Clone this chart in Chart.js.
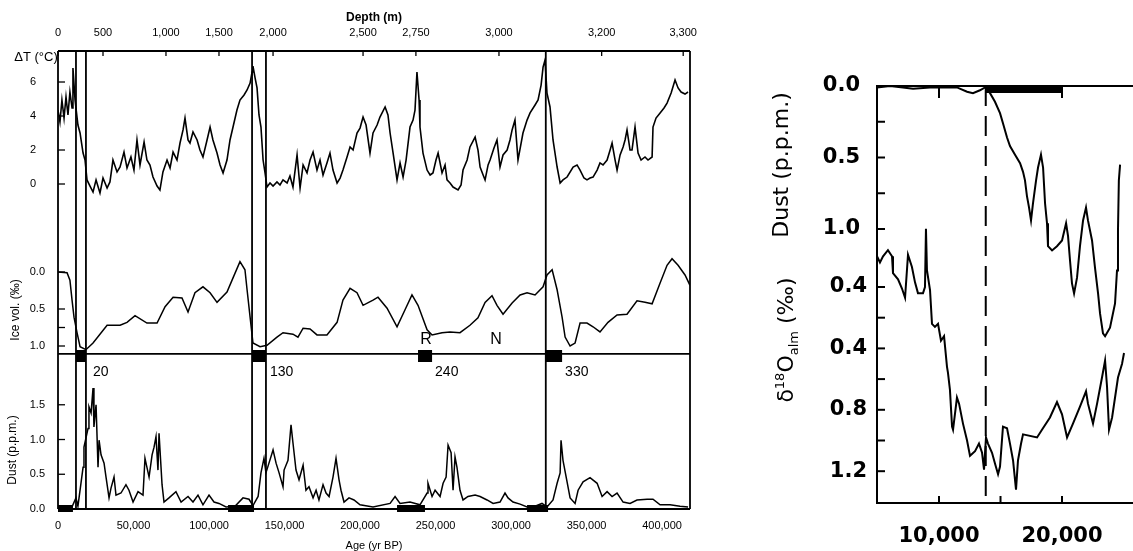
<!DOCTYPE html>
<html>
<head>
<meta charset="utf-8">
<script src="https://cdn.jsdelivr.net/npm/chart.js@4.4.1/dist/chart.umd.min.js"></script>
<style>
  html, body { margin: 0; padding: 0; background: #fff; }
  body { width: 1133px; height: 551px; position: relative; overflow: hidden; }
  canvas { position: absolute; }
</style>
</head>
<body>
<canvas id="cTemp" width="720" height="235" style="left:0;top:0"></canvas>
<canvas id="cIce" width="720" height="118" style="left:0;top:235px"></canvas>
<canvas id="cDust" width="720" height="198" style="left:0;top:353px"></canvas>
<canvas id="cRecent" width="393" height="551" style="left:740px;top:0"></canvas>
<script>
// ---- long record (left figure), ages in years BP ----
const AGE_MAX = 418500;

const depthTickLabels = ['0', '500', '1,000', '1,500', '2,000', '2,500', '2,750', '3,000', '3,200', '3,300'];
const depthTickAges = [0, 29800, 71500, 106600, 142400, 202000, 237000, 292000, 360000, 414000];

const ageTicks = [0, 50000, 100000, 150000, 200000, 250000, 300000, 350000, 400000];
const ageTickLabels = ['0', '50,000', '100,000', '150,000', '200,000', '250,000', '300,000', '350,000', '400,000'];

const boundaryAges = [11900, 18500, 128500, 137700, 323000];
const terminationBars = [[11900, 18500], [128500, 137700], [238400, 247700], [323000, 333800]];
const interglacialBars = [[0, 9900], [112600, 129800], [224500, 243000], [310600, 324500]];
const terminationLabels = ['20', '130', '240', '330'];
const terminationLabelAges = [23200, 140400, 249700, 335800];
const markerLabels = ['R', 'N'];
const markerAges = [243700, 290000];

const tempTicks = [0, 2, 4, 6];
const iceTicks = [0, 0.5, 0.75, 1.0];
const iceTickLabels = ['0.0', '0.5', '', '1.0'];
const dustTicks = [0, 0.5, 1.0, 1.5];

const tempAge = [0, 1300, 2600, 4000, 5300, 6600, 7900, 9300, 9900, 11300, 13200, 14600, 16600, 17900, 19200,
  21200, 23200, 25200, 27800, 29800, 32500, 34400, 36400, 39100, 41100, 43700, 45700, 48300, 50300, 52300,
  54300, 57000, 58900, 60900, 62900, 65600, 67500, 69500, 72200, 74200, 76200, 78800, 80800, 82800, 84100,
  86100, 87400, 89400, 92100, 94000, 96000, 98700, 100700, 102600, 105300, 107300, 109300, 111900, 113900,
  115900, 118500, 120500, 123200, 125200, 127200, 128500, 129100, 130500, 131800, 133100, 134400, 135800,
  137100, 138400, 140400, 142400, 145000, 147000, 149000, 151700, 153600, 155600, 158300, 160300, 162300,
  164900, 166900, 168900, 171500, 173500, 175500, 178100, 180100, 182100, 184800, 186800, 188700, 191400,
  193400, 195400, 198000, 200000, 202000, 204000, 206600, 208600, 211300, 213200, 216600, 218500, 219900,
  221900, 224500, 226500, 228500, 230500, 233100, 235100, 236400, 237700, 239100, 239700, 241700, 244400,
  246400, 248300, 250300, 251700, 254300, 256300, 257600, 259600, 261600, 264900, 266900, 268200, 270900,
  272800, 276200, 278100, 279500, 281500, 282800, 284800, 286100, 288700, 290700, 292700, 294700, 297400,
  299300, 300700, 302600, 304600, 307900, 310600, 312600, 315900, 317900, 319900, 321200, 322500, 323800,
  325800, 327800, 330500, 332500, 334400, 337100, 341100, 343700, 345700, 348300, 350300, 352300, 354300,
  357000, 358900, 360900, 363600, 365600, 366900, 368900, 370200, 372200, 374200, 375500, 376800, 378800,
  380100, 382100, 384100, 386100, 388700, 390700, 393400, 394000, 396000, 398700, 401300, 403300, 406000,
  408600, 410600, 412600, 415200, 417200];
const tempVal = [4.35, 3.65, 4.94, 3.88, 5.12, 4.06, 5.41, 4.47, 6.82, 4.94, 3.47, 3.0, 1.82, 1.41, 0.24,
  -0.12, -0.47, 0.24, -0.53, 0.35, -0.24, 0.12, 1.41, 0.71, 1.0, 1.88, 0.94, 1.59, 0.82, 2.59,
  1.12, 2.47, 1.41, 1.12, 0.41, -0.12, -0.35, 0.71, 1.41, 0.94, 1.88, 1.41, 2.41, 3.18, 3.88,
  2.59, 2.41, 3.06, 2.59, 2.0, 1.59, 2.59, 3.35, 2.59, 1.82, 1.12, 0.65, 1.41, 2.59,
  3.35, 4.35, 4.94, 5.24, 5.53, 5.94, 6.59, 6.94, 6.24, 5.65, 4.06, 3.35, 1.41,
  0.65, -0.18, 0.06, -0.12, 0.12, -0.06, 0.24, 0.06, 0.47, -0.18, 1.71, -0.24, 1.12,
  0.65, 1.41, 1.88, 0.82, 1.41, 0.53, 1.24, 1.82, 0.82, 0.06, 0.35, 0.82, 1.59,
  2.18, 2.0, 3.0, 3.29, 3.94, 3.47, 1.82, 3.0, 3.47, 3.94, 4.53, 4.06, 3.0,
  1.82, 0.24, 1.24, 0.41, 1.41, 3.35, 3.76, 4.35, 6.59, 4.94, 3.35, 1.82, 0.82,
  0.53, 0.65, 1.41, 1.82, 0.65, 1.12, 0.24, 0.06, -0.18, -0.35, -0.06, 0.82, 1.41,
  2.18, 2.76, 2.0, 1.0, 0.53, 0.24, 1.12, 1.41, 2.12, 2.59, 1.0, 1.71, 2.0,
  2.59, 3.18, 3.76, 1.41, 3.0, 3.76, 4.18, 4.65, 4.94, 5.82, 6.88, 7.29, 5.35,
  4.53, 2.59, 1.0, 0.06, 0.24, 0.41, 1.0, 1.12, 0.82, 0.35, 0.24, 0.35, 0.41,
  0.82, 1.24, 1.12, 1.41, 2.0, 2.41, 1.41, 0.82, 1.71, 2.18, 2.59, 3.18, 2.0,
  2.0, 3.35, 1.82, 1.41, 1.59, 1.41, 1.59, 3.35, 3.88, 4.18, 4.47, 4.76, 5.35,
  6.12, 5.65, 5.41, 5.29, 5.41];

const iceAge = [0, 6000, 7900, 9300, 10600, 12600, 14600, 18500, 23200, 32500, 41100, 45700, 51000, 58900,
  65600, 70900, 76200, 82100, 86100, 90700, 96000, 100700, 105300, 111900, 115900, 120500, 123800, 125200,
  127200, 129100, 133800, 138400, 145000, 149000, 155600, 158900, 162300, 166900, 171500, 178100, 184800,
  188700, 193400, 198000, 202000, 208600, 211900, 217900, 224500, 229800, 234400, 238400, 244400, 247700,
  254300, 259600, 266200, 272800, 278100, 282800, 287400, 290700, 294700, 300700, 306000, 310600, 315900,
  321200, 323800, 327200, 330500, 333800, 335800, 339100, 342400, 345700, 350300, 354300, 358900, 364200,
  370200, 376800, 383400, 388700, 393400, 398700, 403300, 406600, 410600, 415200, 418500];
const iceVal = [0.0, 0.01, 0.11, 0.38, 0.61, 0.82, 1.01, 1.05, 0.96, 0.72, 0.72, 0.68, 0.59, 0.69,
  0.69, 0.47, 0.34, 0.35, 0.54, 0.28, 0.20, 0.28, 0.41, 0.27, 0.08, -0.14, -0.03, 0.24,
  0.61, 0.96, 1.01, 0.99, 0.88, 0.82, 0.84, 0.88, 0.76, 0.77, 0.85, 0.85, 0.68,
  0.38, 0.22, 0.28, 0.45, 0.38, 0.34, 0.49, 0.74, 0.51, 0.31, 0.45, 0.78, 0.85,
  0.82, 0.81, 0.82, 0.72, 0.62, 0.41, 0.32, 0.45, 0.57, 0.42, 0.31, 0.28, 0.31,
  0.20, 0.04, -0.03, 0.24, 0.61, 0.88, 1.0, 0.96, 0.69, 0.69, 0.74, 0.81, 0.68,
  0.58, 0.57, 0.39, 0.41, 0.43, 0.15, -0.09, -0.18, -0.09, 0.04, 0.18];

const dustAge = [0, 4600, 9300, 11900, 13200, 15200, 16600, 17200, 19900, 20500, 21900, 23200, 23800, 25200,
  26500, 27200, 28500, 30500, 31800, 33800, 35100, 37100, 38400, 41700, 45000, 47000, 49700, 53000, 56300,
  57600, 60300, 62300, 63600, 64900, 66200, 66900, 68900, 70200, 73500, 78100, 81500, 86100, 89400, 92700,
  96000, 100000, 103300, 106600, 111300, 117200, 122500, 126500, 129100, 132500, 134400, 136400, 137700,
  139700, 142400, 144400, 146400, 149000, 149700, 152300, 154300, 155600, 157600, 159600, 162300, 164200,
  166200, 168900, 170900, 172800, 175500, 177500, 179500, 182100, 184100, 186100, 187400, 189400, 192700,
  196000, 200000, 208600, 219900, 223200, 226500, 233100, 239700, 244400, 245000, 247700, 249700, 253000,
  255000, 257000, 258300, 260300, 261600, 262900, 264200, 266200, 268200, 271500, 276200, 279500, 284100,
  288100, 292700, 296000, 298000, 301300, 306000, 310600, 315900, 320500, 323800, 327800, 330500, 332500,
  333100, 334400, 337100, 339100, 342400, 344400, 347700, 352300, 357000, 360300, 363600, 366900, 370200,
  374200, 378800, 383400, 390100, 394000, 398700, 405300, 411900, 417200];
const dustVal = [0.02, 0.02, 0.03, 0.16, 0.04, 0.37, 0.6, 0.89, 1.16, 1.47, 1.38, 1.74, 1.18, 1.5,
  0.6, 0.99, 0.78, 0.66, 0.46, 0.16, 0.3, 0.46, 0.2, 0.23, 0.35, 0.27, 0.1, 0.25, 0.2,
  0.73, 0.46, 0.78, 0.89, 1.04, 0.56, 1.09, 0.35, 0.1, 0.16, 0.25, 0.1, 0.18, 0.1, 0.2,
  0.06, 0.2, 0.1, 0.08, 0.03, 0.04, 0.16, 0.14, 0.05, 0.18, 0.52, 0.73, 0.52,
  0.66, 0.85, 0.66, 0.52, 0.32, 0.56, 0.7, 1.21, 0.95, 0.56, 0.42, 0.63, 0.27,
  0.32, 0.16, 0.27, 0.13, 0.35, 0.23, 0.18, 0.46, 0.73, 0.42, 0.27, 0.1, 0.16,
  0.13, 0.06, 0.03, 0.08, 0.18, 0.08, 0.1, 0.06, 0.23, 0.37, 0.18, 0.27, 0.18,
  0.37, 0.46, 0.92, 0.81, 0.27, 0.75, 0.6, 0.27, 0.13, 0.18, 0.2, 0.18, 0.13,
  0.08, 0.1, 0.23, 0.16, 0.1, 0.07, 0.03, 0.04, 0.08, 0.03, 0.13, 0.37, 0.52,
  0.99, 0.7, 0.39, 0.16, 0.08, 0.27, 0.39, 0.45, 0.37, 0.18, 0.25, 0.18, 0.23,
  0.1, 0.08, 0.13, 0.14, 0.14, 0.06, 0.06, 0.04, 0.03];

// ---- last glacial transition (right figure) ----
const recentTicks = [10000, 15000, 20000];
const recentTickLabels = ['10,000', '', '20,000'];
const recentTopTicks = [10000, 20000];
const recentDustTicks = [0, 0.25, 0.5, 0.75, 1.0];
const d18Ticks = [0, 0.2, 0.4, 0.6, 0.8, 1.0, 1.2];
const d18TickLabels = ['0.4', '', '0.4', '', '0.8', '', '1.2'];
const lgmBar = [13800, 20000];
const dashedAge = 13800;

const recentDustAge = [4960, 6020, 7070, 7890, 9270, 10330, 11460, 12280, 12760, 13330, 13740, 14150, 14550,
  14960, 15200, 15530, 15770, 16180, 16590, 16830, 16990, 17150, 17320, 17480, 17640, 17890, 18050, 18290,
  18460, 18620, 18780, 18860, 19190, 19590, 20000, 20330, 20490, 20650, 20810, 20980, 21220, 21460, 21710,
  21950, 22110, 22440, 22680, 22930, 23090, 23330, 23500, 23900, 24310, 24470, 24550, 24620, 24720];
const recentDustVal = [0.01, 0.0, 0.01, 0.02, 0.01, 0.01, 0.01, 0.04, 0.05, 0.03, 0.01, 0.05, 0.11,
  0.19, 0.26, 0.36, 0.42, 0.48, 0.54, 0.6, 0.66, 0.77, 0.85, 0.94, 0.82, 0.66, 0.57, 0.48,
  0.57, 0.82, 0.96, 1.12, 1.15, 1.12, 1.08, 0.96, 1.05, 1.22, 1.38, 1.45, 1.34, 1.12, 0.94,
  0.85, 0.94, 1.08, 1.27, 1.45, 1.59, 1.73, 1.75, 1.69, 1.52, 1.29, 1.01, 0.66, 0.55];

const d18Age = [4960, 5200, 5450, 5850, 6180, 6260, 6670, 6990, 7240, 7480, 7800, 8050, 8290, 8700, 8860,
  8940, 9020, 9270, 9430, 9670, 9920, 10160, 10410, 10650, 10730, 10890, 11060, 11140, 11460, 11630, 11950,
  12280, 12520, 12930, 13250, 13500, 13660, 13820, 13980, 14310, 14550, 14800, 14960, 15200, 15530, 15770,
  16020, 16260, 16420, 16670, 16830, 17970, 18370, 19020, 19590, 20000, 20410, 20890, 21460, 21950, 22110,
  22520, 22850, 23250, 23500, 23660, 23820, 24070, 24310, 24550, 24880, 25040];
const d18Val = [-0.2, -0.16, -0.2, -0.24, -0.2, -0.09, -0.05, 0.01, 0.07, -0.21, -0.13, -0.03, 0.04, 0.04, 0.0,
  -0.38, -0.11, 0.02, 0.24, 0.26, 0.24, 0.35, 0.32, 0.52, 0.56, 0.67, 0.91, 0.93, 0.72, 0.76, 0.89,
  1.0, 1.1, 1.07, 1.02, 1.08, 1.19, 0.98, 1.02, 1.08, 1.15, 1.22, 1.17, 0.91, 0.92, 1.02,
  1.13, 1.32, 1.13, 1.02, 0.96, 0.98, 0.93, 0.85, 0.75, 0.83, 0.98, 0.89, 0.78, 0.68, 0.76,
  0.89, 0.76, 0.59, 0.48, 0.65, 0.93, 0.85, 0.72, 0.59, 0.5, 0.43];

// ---------------------------------------------------------------
Chart.defaults.font.family = '"Liberation Sans", Arial, sans-serif';
Chart.defaults.color = '#000';

const pts = (xs, ys) => xs.map((x, i) => ({ x: x, y: ys[i] }));

function seg(ctx, x1, y1, x2, y2, w, dash) {
  ctx.beginPath();
  ctx.lineWidth = w;
  ctx.setLineDash(dash || []);
  ctx.moveTo(x1, y1);
  ctx.lineTo(x2, y2);
  ctx.stroke();
  ctx.setLineDash([]);
}

function label(ctx, str, x, y, font, opt) {
  opt = opt || {};
  ctx.save();
  ctx.translate(x, y);
  if (opt.rot) ctx.rotate(opt.rot);
  ctx.font = font;
  ctx.fillStyle = '#000';
  ctx.textAlign = opt.align || 'center';
  ctx.textBaseline = opt.base || 'middle';
  ctx.fillText(str, 0, 0);
  ctx.restore();
}

function setTicks(values) {
  return function (scale) { scale.ticks = values.map(v => ({ value: v })); };
}

// fixed width for a y axis, and no extra room for its end labels
function fixWidth(w) {
  return function (scale) { scale.width = w; scale.paddingTop = 0; scale.paddingBottom = 0; };
}

const common = {
  responsive: false,
  animation: false,
  devicePixelRatio: 1,
  plugins: { legend: { display: false }, tooltip: { enabled: false } },
};

const lineSet = (data, w, axis) => ({
  data: data, borderColor: '#000', borderWidth: w, pointRadius: 0, tension: 0, fill: false,
  yAxisID: axis || 'y'
});

const FRAME = 1.8;

// ---------- top panel: temperature ----------
new Chart(document.getElementById('cTemp'), {
  type: 'line',
  data: { datasets: [lineSet(pts(tempAge, tempVal), 1.6)] },
  options: Object.assign({}, common, {
    layout: { padding: { left: 0, right: 30, top: 0, bottom: 0 } },
    scales: {
      x: { type: 'linear', min: 0, max: AGE_MAX, display: false },
      xd: {
        type: 'linear', position: 'top', min: 0, max: AGE_MAX,
        grid: { display: false }, border: { display: false },
        afterBuildTicks: setTicks(depthTickAges),
        afterFit: s => { s.height = 51; },
        ticks: { autoSkip: false, maxRotation: 0, padding: 3, font: { size: 11 },
          callback: (v, i) => depthTickLabels[i] },
        title: { display: true, text: 'Depth (m)', font: { size: 12, weight: 'bold' },
          padding: { top: 10, bottom: 0 } }
      },
      y: {
        min: -3, max: 7.824,
        grid: { display: false }, border: { display: false },
        afterBuildTicks: setTicks(tempTicks),
        afterFit: fixWidth(58),
        ticks: { autoSkip: false, padding: 14, font: { size: 11 }, callback: v => String(v) }
      }
    }
  }),
  plugins: [{
    id: 'tempDecor',
    afterDraw(chart) {
      const { ctx, chartArea: a, scales } = chart;
      ctx.save();
      ctx.strokeStyle = '#000';
      seg(ctx, a.left, a.top, a.right, a.top, FRAME);
      seg(ctx, a.left, a.top, a.left, a.bottom, FRAME);
      seg(ctx, a.right, a.top, a.right, a.bottom, FRAME);
      boundaryAges.forEach(v => {
        const x = scales.x.getPixelForValue(v);
        seg(ctx, x, a.top, x, a.bottom, FRAME);
      });
      depthTickAges.forEach(v => {
        const x = scales.xd.getPixelForValue(v);
        seg(ctx, x, a.top, x, a.top + 5, 1.3);
      });
      tempTicks.forEach(v => {
        const y = scales.y.getPixelForValue(v);
        seg(ctx, a.left, y, a.left + 7, y, 1.3);
      });
      label(ctx, 'ΔT (°C)', 36, 57, '13px "Liberation Sans"');
      ctx.restore();
    }
  }]
});

// ---------- middle panel: ice volume ----------
new Chart(document.getElementById('cIce'), {
  type: 'line',
  data: { datasets: [lineSet(pts(iceAge, iceVal), 1.5)] },
  options: Object.assign({}, common, {
    layout: { padding: { left: 0, right: 30, top: 0, bottom: 0 } },
    scales: {
      x: { type: 'linear', min: 0, max: AGE_MAX, display: false },
      y: {
        min: -0.5, max: 1.0946, reverse: true,
        grid: { display: false }, border: { display: false },
        afterBuildTicks: setTicks(iceTicks),
        afterFit: fixWidth(58),
        ticks: { autoSkip: false, padding: 5, font: { size: 11 }, callback: (v, i) => iceTickLabels[i] }
      }
    }
  }),
  plugins: [{
    id: 'iceDecor',
    afterDraw(chart) {
      const { ctx, chartArea: a, scales } = chart;
      ctx.save();
      ctx.strokeStyle = '#000';
      ctx.fillStyle = '#000';
      seg(ctx, a.left, a.top, a.left, a.bottom, FRAME);
      seg(ctx, a.right, a.top, a.right, a.bottom, FRAME);
      boundaryAges.forEach(v => {
        const x = scales.x.getPixelForValue(v);
        seg(ctx, x, a.top, x, a.bottom, FRAME);
      });
      iceTicks.forEach(v => {
        const y = scales.y.getPixelForValue(v);
        seg(ctx, a.left, y, a.left + 7, y, 1.3);
      });
      terminationBars.forEach(r => {
        const x0 = scales.x.getPixelForValue(r[0]), x1 = scales.x.getPixelForValue(r[1]);
        ctx.fillRect(x0, a.bottom - 3, x1 - x0, 12);
      });
      markerLabels.forEach((t, i) => {
        label(ctx, t, scales.x.getPixelForValue(markerAges[i]), a.top + 105, '16px "Liberation Sans"');
      });
      label(ctx, 'Ice vol. (‰)', 16, 75, '12px "Liberation Sans"', { rot: -Math.PI / 2 });
      ctx.restore();
    }
  }]
});

// ---------- bottom panel: dust ----------
new Chart(document.getElementById('cDust'), {
  type: 'line',
  data: { datasets: [lineSet(pts(dustAge, dustVal), 1.5)] },
  options: Object.assign({}, common, {
    layout: { padding: { left: 0, right: 30, top: 0, bottom: 0 } },
    scales: {
      x: {
        type: 'linear', min: 0, max: AGE_MAX,
        grid: { display: false }, border: { display: false },
        afterBuildTicks: setTicks(ageTicks),
        afterFit: s => { s.height = 42; },
        ticks: { autoSkip: false, maxRotation: 0, padding: 2, font: { size: 11 },
          callback: (v, i) => ageTickLabels[i] },
        title: { display: true, text: 'Age (yr BP)', font: { size: 11, lineHeight: 1 },
          padding: { top: 0, bottom: 0 } }
      },
      y: {
        min: 0, max: 2.245,
        grid: { display: false }, border: { display: false },
        afterBuildTicks: setTicks(dustTicks),
        afterFit: fixWidth(58),
        ticks: { autoSkip: false, padding: 5, font: { size: 11 }, callback: v => v.toFixed(1) }
      }
    }
  }),
  plugins: [{
    id: 'dustDecor',
    afterDraw(chart) {
      const { ctx, chartArea: a, scales } = chart;
      ctx.save();
      ctx.strokeStyle = '#000';
      ctx.fillStyle = '#000';
      seg(ctx, a.left, a.top + 0.9, a.right, a.top + 0.9, FRAME);
      seg(ctx, a.left, a.bottom, a.right, a.bottom, FRAME);
      seg(ctx, a.left, a.top, a.left, a.bottom, FRAME);
      seg(ctx, a.right, a.top, a.right, a.bottom, FRAME);
      boundaryAges.forEach(v => {
        const x = scales.x.getPixelForValue(v);
        seg(ctx, x, a.top, x, a.bottom, FRAME);
      });
      dustTicks.forEach(v => {
        const y = scales.y.getPixelForValue(v);
        seg(ctx, a.left, y, a.left + 7, y, 1.3);
      });
      terminationBars.forEach(r => {
        const x0 = scales.x.getPixelForValue(r[0]), x1 = scales.x.getPixelForValue(r[1]);
        ctx.fillRect(x0, a.top - 3, x1 - x0, 12);
      });
      interglacialBars.forEach(r => {
        const x0 = scales.x.getPixelForValue(r[0]), x1 = scales.x.getPixelForValue(r[1]);
        ctx.fillRect(x0, a.bottom - 4, x1 - x0, 7);
      });
      terminationLabels.forEach((t, i) => {
        label(ctx, t, scales.x.getPixelForValue(terminationLabelAges[i]), a.top + 19,
          '14px "Liberation Sans"', { align: 'left' });
      });
      label(ctx, 'Dust (p.p.m.)', 13, 97, '12px "Liberation Sans"', { rot: -Math.PI / 2 });
      ctx.restore();
    }
  }]
});

// ---------- right figure: last glacial transition ----------
const bigFont = { family: '"DejaVu Sans", sans-serif', size: 21, weight: 'bold' };

new Chart(document.getElementById('cRecent'), {
  type: 'line',
  data: {
    datasets: [
      lineSet(pts(recentDustAge, recentDustVal), 2, 'yDust'),
      lineSet(pts(d18Age, d18Val), 2, 'yO')
    ]
  },
  options: Object.assign({}, common, {
    layout: { padding: { left: 0, right: 0, top: 86, bottom: 0 } },
    scales: {
      x: {
        type: 'linear', min: 4960, max: 25770,
        grid: { display: false }, border: { display: true, color: '#000', width: 2 },
        afterBuildTicks: setTicks(recentTicks),
        afterFit: s => { s.height = 48; },
        ticks: { autoSkip: false, maxRotation: 0, padding: 13, font: bigFont,
          callback: (v, i) => recentTickLabels[i] }
      },
      yDust: {
        type: 'linear', position: 'left', weight: 1, reverse: true, min: 0, max: 2.916,
        grid: { display: false }, border: { display: true, color: '#000', width: 2 },
        afterBuildTicks: setTicks(recentDustTicks),
        afterFit: fixWidth(137),
        ticks: { autoSkip: false, padding: 9, font: bigFont,
          callback: v => (Math.abs(v * 2 - Math.round(v * 2)) < 1e-6 ? v.toFixed(1) : '') }
      },
      yO: {
        type: 'linear', position: 'left', weight: 0, reverse: true, min: -1.3094, max: 1.4072,
        display: false
      }
    }
  }),
  plugins: [{
    id: 'recentDecor',
    afterDraw(chart) {
      const { ctx, chartArea: a, scales } = chart;
      ctx.save();
      ctx.strokeStyle = '#000';
      ctx.fillStyle = '#000';
      seg(ctx, a.left, a.top, a.right, a.top, 2);
      const b0 = scales.x.getPixelForValue(lgmBar[0]), b1 = scales.x.getPixelForValue(lgmBar[1]);
      ctx.fillRect(b0, a.top - 1, b1 - b0, 8);
      const xd = scales.x.getPixelForValue(dashedAge);
      seg(ctx, xd, a.top, xd, a.bottom, 2, [20, 10]);
      recentDustTicks.forEach(v => {
        const y = scales.yDust.getPixelForValue(v);
        seg(ctx, a.left, y, a.left + 8, y, 2);
      });
      // δ18O axis shares the left edge: ticks and labels drawn here
      ctx.font = 'bold 21px "DejaVu Sans"';
      ctx.textAlign = 'right';
      ctx.textBaseline = 'middle';
      d18Ticks.forEach((v, i) => {
        const y = scales.yO.getPixelForValue(v);
        seg(ctx, a.left, y, a.left + 8, y, 2);
        if (d18TickLabels[i]) ctx.fillText(d18TickLabels[i], a.left - 10, y);
      });
      recentTicks.forEach(v => {
        const x = scales.x.getPixelForValue(v);
        seg(ctx, x, a.bottom, x, a.bottom - 7, 2);
      });
      recentTopTicks.forEach(v => {
        const x = scales.x.getPixelForValue(v);
        seg(ctx, x, a.top, x, a.top + 12, 2);
      });
      label(ctx, 'Dust (p.p.m.)', 48, 165, '22px "DejaVu Sans"', { rot: -Math.PI / 2, base: 'alphabetic' });

      // δ18Oalm (‰) with super/subscripts
      const parts = [
        { t: 'δ', f: '22px "DejaVu Sans"', dy: 0 },
        { t: '18', f: '13px "DejaVu Sans"', dy: -9 },
        { t: 'O', f: '22px "DejaVu Sans"', dy: 0 },
        { t: 'alm', f: '13px "DejaVu Sans"', dy: 5 },
        { t: ' (‰)', f: '22px "DejaVu Sans"', dy: 0 }
      ];
      ctx.save();
      ctx.translate(53, 340);
      ctx.rotate(-Math.PI / 2);
      ctx.textBaseline = 'alphabetic';
      ctx.textAlign = 'left';
      let w = 0;
      parts.forEach(p => { ctx.font = p.f; p.w = ctx.measureText(p.t).width; w += p.w; });
      let x = -w / 2;
      parts.forEach(p => { ctx.font = p.f; ctx.fillText(p.t, x, p.dy); x += p.w; });
      ctx.restore();
      ctx.restore();
    }
  }]
});
</script>
</body>
</html>
